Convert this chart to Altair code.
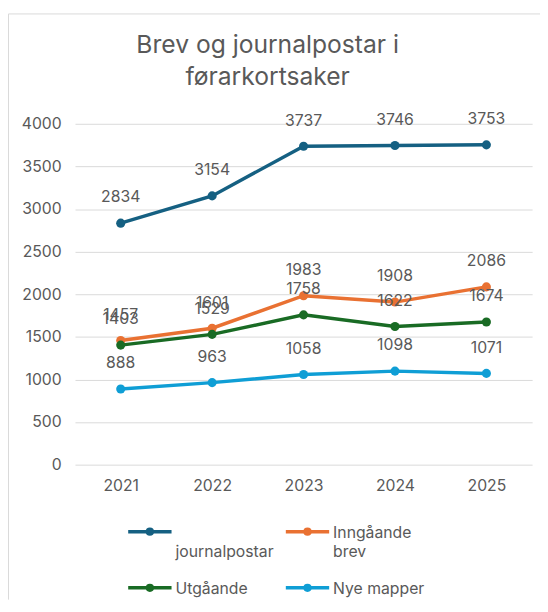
import altair as alt
import pandas as pd

FONT = "Inter"
GREY = "#595959"

years = ["2021", "2022", "2023", "2024", "2025"]
series_names = ["journalpostar", "Inngåande brev", "Utgåande", "Nye mapper"]
legend_labels = ["\njournalpostar", "Inngåande\nbrev", "Utgåande", "Nye mapper"]
colors = ["#156082", "#E97132", "#196B24", "#0F9ED5"]

journalpostar = [2834, 3154, 3737, 3746, 3753]
inngaande = [1457, 1601, 1983, 1908, 2086]
utgaande = [1403, 1529, 1758, 1622, 1674]
nye_mapper = [888, 963, 1058, 1098, 1071]

title_lines = ["Brev og journalpostar i", "førarkortsaker"]
y_ticks = [0, 500, 1000, 1500, 2000, 2500, 3000, 3500, 4000]

values = [journalpostar, inngaande, utgaande, nye_mapper]
rows = []
for name, vals in zip(series_names, values):
    for yr, v in zip(years, vals):
        rows.append({"year": yr, "value": v, "series": name})
df = pd.DataFrame(rows)

W, H = 464, 346

x_enc = alt.X("year:O", title=None, sort=years,
              scale=alt.Scale(type="point", padding=0.5),
              axis=alt.Axis(labelAngle=0, grid=False, labelPadding=13))
y_enc = alt.Y("value:Q", title=None, scale=alt.Scale(domain=[0, 4000], nice=False),
              axis=alt.Axis(values=y_ticks, labelPadding=14, grid=True, format="d"))
col_enc = alt.Color("series:N", scale=alt.Scale(domain=series_names, range=colors), legend=None)

lines = alt.Chart(df).mark_line(strokeWidth=3.5).encode(x=x_enc, y=y_enc, color=col_enc, detail="series:N")
points = alt.Chart(df).mark_point(filled=True, size=85, opacity=1).encode(x=x_enc, y=y_enc, color=col_enc)
labels = alt.Chart(df).mark_text(dy=-26, fontSize=16, font=FONT, color=GREY).encode(
    x=x_enc, y=y_enc, text="value:Q")

layers = [lines, points, labels]

# title
tdf = pd.DataFrame({"t": ["\n".join(title_lines)]})
title = alt.Chart(tdf).mark_text(font=FONT, fontSize=25, color=GREY, lineBreak="\n",
                                 lineHeight=33, align="center", baseline="alphabetic").encode(
    text="t:N", x=alt.value(195.5), y=alt.value(-72))
layers.append(title)

# frame
fdf = pd.DataFrame({"a": [0]})
layers.append(alt.Chart(fdf).mark_rule(color="#D9D9D9", strokeWidth=1).encode(
    x=alt.value(-67.5), y=alt.value(-111.5), y2=alt.value(483)))
layers.append(alt.Chart(fdf).mark_rule(color="#D9D9D9", strokeWidth=1).encode(
    x=alt.value(-67.5), x2=alt.value(480), y=alt.value(-111.5)))

# legend
leg_pos = [(54, 414), (214, 414), (54, 471), (214, 471)]
for name, lab, c, (lx, ly) in zip(series_names, legend_labels, colors, leg_pos):
    ldf = pd.DataFrame({"s": [name], "l": [lab]})
    layers.append(alt.Chart(ldf).mark_rule(color=c, strokeWidth=3.5).encode(
        x=alt.value(lx), x2=alt.value(lx + 44), y=alt.value(ly)))
    layers.append(alt.Chart(ldf).mark_point(filled=True, size=70, opacity=1, color=c).encode(
        x=alt.value(lx + 22), y=alt.value(ly)))
    layers.append(alt.Chart(ldf).mark_text(font=FONT, fontSize=16, color=GREY, align="left",
                                           baseline="alphabetic", lineBreak="\n", lineHeight=20).encode(
        text="l:N", x=alt.value(lx + 48), y=alt.value(ly + 6)))

chart = alt.layer(*layers).properties(
    width=W, height=H,
    autosize=alt.AutoSizeParams(type="none"),
    padding={"left": 68, "top": 113, "right": 8, "bottom": 145},
).configure_view(stroke=None).configure_axis(
    domain=False, ticks=False, gridColor="#D9D9D9", gridWidth=1,
    labelColor=GREY, labelFont=FONT, labelFontSize=16,
)

chart.save("out.html", embed_options={"renderer": "svg", "actions": False})
